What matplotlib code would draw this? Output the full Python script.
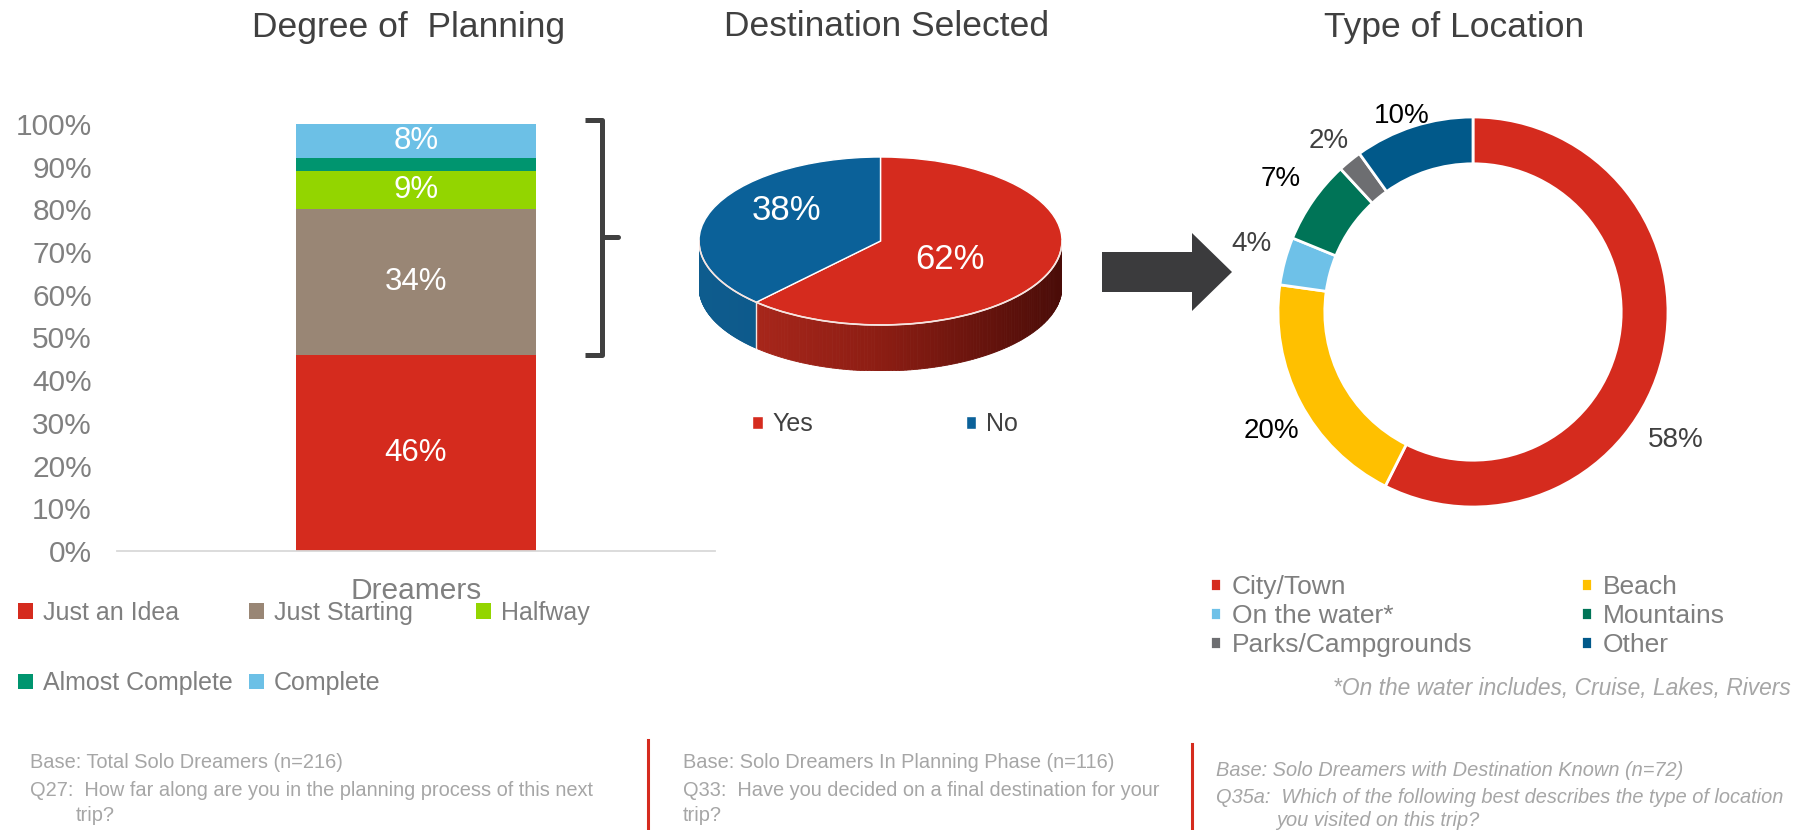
import numpy as np
import matplotlib
matplotlib.use('Agg')
import matplotlib.pyplot as plt
from matplotlib.patches import Polygon, FancyArrow
from matplotlib.colors import LinearSegmentedColormap

plt.rcParams['font.family'] = ['Liberation Sans', 'DejaVu Sans']

W, H = 1806, 830

# data
plan_category = ['Dreamers']
plan_stages = ['Just an Idea', 'Just Starting', 'Halfway', 'Almost Complete', 'Complete']
plan_values = [46, 34, 9, 3, 8]
plan_colors = ['#d52b1e', '#998675', '#93d500', '#00956f', '#6cc0e6']

dest_labels = ['Yes', 'No']
dest_values = [62, 38]
dest_colors = ['#d52b1e', '#0b6199']

loc_labels = ['City/Town', 'Beach', 'On the water*', 'Mountains', 'Parks/Campgrounds', 'Other']
loc_values = [58, 20, 4, 7, 2, 10]
loc_colors = ['#d52b1e', '#ffc000', '#6ec1e8', '#007457', '#6d6e71', '#01598a']
loc_label_colors = ['#404040', 'black', '#404040', 'black', '#404040', 'black']


def box(x0, y0, x1, y1):
    return [x0 / W, 1 - y1 / H, (x1 - x0) / W, (y1 - y0) / H]


def fx(px):
    return px / W


def fy(py):
    return 1 - py / H


fig = plt.figure(figsize=(W / 100, H / 100), dpi=100)

# overlay for decorations (bracket, arrow, separators), drawn on top
ov = fig.add_axes([0, 0, 1, 1])
ov.set_xlim(0, W)
ov.set_ylim(H, 0)
ov.axis('off')
ov.patch.set_visible(False)
ov.set_zorder(5)

# titles
for txt, x in [('Degree of  Planning', 409), ('Destination Selected', 887), ('Type of Location', 1454)]:
    fig.text(fx(x), fy(27), txt, ha='center', va='center', fontsize=25.5, color='#404040')

# ---- stacked bar ----
ax1 = fig.add_axes(box(117, 124, 715, 551))
bottom = 0.0
bars = []
for stage, val, col in zip(plan_stages, plan_values, plan_colors):
    c = ax1.bar(plan_category, [val / 100], bottom=bottom, width=0.4, color=col, label=stage)
    ax1.bar_label(c, labels=[f'{val}%' if val >= 5 else ''], label_type='center',
                  color='white', fontsize=22.5)
    bottom += val / 100
    bars.append(c)
ax1.set_xlim(-0.5, 0.5)
ax1.set_ylim(0, 1)
ticks = np.arange(0, 11) / 10
ax1.set_yticks(ticks)
ax1.set_yticklabels([f'{int(round(t * 100))}%' for t in ticks])
ax1.tick_params(axis='y', length=0, pad=18, labelsize=21.5, labelcolor='#808080')
ax1.tick_params(axis='x', length=0, pad=19, labelsize=21.5, labelcolor='#808080')
for s in ['left', 'top', 'right']:
    ax1.spines[s].set_visible(False)
ax1.spines['bottom'].set_color('#d9d9d9')
ax1.spines['bottom'].set_linewidth(1.3)

# bar legend, three columns
leg_cols = [([0, 3], 18), ([1, 4], 249), ([2], 476)]
for idx, x in leg_cols:
    fig.legend([bars[i] for i in idx], [plan_stages[i] for i in idx],
               loc='upper left', bbox_to_anchor=(fx(x), fy(601)), frameon=False,
               borderpad=0, borderaxespad=0, fontsize=18, labelcolor='#7f7f7f',
               handlelength=0.6, handleheight=0.6, handletextpad=0.4, labelspacing=1.85)

# bracket
ov.plot([585, 602, 602, 585], [120, 120, 355, 355], color='#404040', lw=3.6,
        solid_joinstyle='round', solid_capstyle='butt')
ov.plot([602, 618], [237, 237], color='#404040', lw=3.6, solid_capstyle='round')

# ---- 3D pie ----
ax2 = fig.add_axes(box(699, 157, 1062, 371))
depth = 46 / 84
wedges2, _, auto2 = ax2.pie(dest_values, colors=dest_colors, startangle=90, counterclock=False,
                            wedgeprops=dict(edgecolor='white', linewidth=1),
                            autopct=lambda p: f'{p:.0f}%',
                            textprops=dict(color='white', fontsize=25))
ax2.set_aspect('auto')
ax2.set_xlim(-1, 1)
ax2.set_ylim(-1 - depth, 1)
# nudge the percentage labels the way the original places them
for w, t, r, sh in zip(wedges2, auto2, [0.44, 0.63], [-7.6, -13]):
    th = np.radians((w.theta1 + w.theta2) / 2 + sh)
    t.set_position((r * np.cos(th), r * np.sin(th)))

side_cmaps = [LinearSegmentedColormap.from_list('rs', ['#b32a1e', '#8c1d13', '#4a0c08']),
              LinearSegmentedColormap.from_list('bs', ['#0e5c8e', '#0a4e7c'])]
for w, cmap in zip(wedges2, side_cmaps):
    for shift in (0, 360):
        lo = max(w.theta1, -180 + shift)
        hi = min(w.theta2, 0 + shift)
        if hi <= lo:
            continue
        a = np.radians(np.linspace(lo, hi, 120))
        for a0, a1 in zip(a[:-1], a[1:]):
            pts = [(np.cos(a0), np.sin(a0)), (np.cos(a1), np.sin(a1)),
                   (np.cos(a1), np.sin(a1) - depth), (np.cos(a0), np.sin(a0) - depth)]
            c = cmap((np.cos(a0) + 1) / 2)
            ax2.add_patch(Polygon(pts, closed=True, facecolor=c, edgecolor=c, lw=0.6, zorder=0))
rim = np.radians(np.linspace(-180, 0, 200))
ax2.plot(np.cos(rim), np.sin(rim), color='#f6e4e0', lw=1.2, zorder=2)
split = np.radians(wedges2[0].theta1)
ax2.plot([np.cos(split)] * 2, [np.sin(split), np.sin(split) - depth], color='#f6e4e0', lw=1, zorder=2)

fig.legend(wedges2, dest_labels, ncol=2, loc='center left', bbox_to_anchor=(fx(752), fy(424)),
           frameon=False, borderpad=0, borderaxespad=0, fontsize=18, labelcolor='#404040',
           handlelength=0.42, handleheight=0.42, handletextpad=0.4, columnspacing=6.1)

# arrow
ov.add_patch(FancyArrow(1102, 272, 130, 0, width=40, head_width=78, head_length=40,
                        length_includes_head=True, color='#3b3b3d', lw=0))

# ---- donut ----
ax3 = fig.add_axes(box(1278, 117, 1668, 507))
wedges3, _ = ax3.pie(loc_values, colors=loc_colors, startangle=90, counterclock=False,
                     wedgeprops=dict(width=0.24, edgecolor='white', linewidth=2))
ax3.set_xlim(-1, 1)
ax3.set_ylim(-1, 1)
label_r = [1.23, 1.2, 1.19, 1.2, 1.15, 1.07]
label_shift = [-19, 3, -2, 0, 1, 2]
for w, val, col, r, sh in zip(wedges3, loc_values, loc_label_colors, label_r, label_shift):
    th = np.radians((w.theta1 + w.theta2) / 2 + sh)
    ax3.text(r * np.cos(th), r * np.sin(th), f'{val}%', ha='center', va='center',
             fontsize=20, color=col)

for idx, x in [([0, 2, 4], 1210), ([1, 3, 5], 1581)]:
    fig.legend([wedges3[i] for i in idx], [loc_labels[i] for i in idx],
               loc='center left', bbox_to_anchor=(fx(x), fy(616)), frameon=False,
               borderpad=0, borderaxespad=0, fontsize=19, labelcolor='#7f7f7f',
               handlelength=0.42, handleheight=0.42, handletextpad=0.4, labelspacing=0.19)

fig.text(fx(1791), fy(688), '*On the water includes, Cruise, Lakes, Rivers', ha='right', va='center',
         fontsize=16.4, style='italic', color='#a6a6a6')

# ---- footnotes ----
note = dict(fontsize=14.4, color='#a6a6a6', va='center')
fig.text(fx(30), fy(763), 'Base: Total Solo Dreamers (n=216)', **note)
fig.text(fx(30), fy(790), 'Q27:  How far along are you in the planning process of this next', **note)
fig.text(fx(76), fy(815), 'trip?', **note)
fig.text(fx(683), fy(763), 'Base: Solo Dreamers In Planning Phase (n=116)', **note)
fig.text(fx(683), fy(790), 'Q33:  Have you decided on a final destination for your', **note)
fig.text(fx(683), fy(815), 'trip?', **note)
fig.text(fx(1216), fy(770), 'Base: Solo Dreamers with Destination Known (n=72)', style='italic', **note)
fig.text(fx(1216), fy(797), 'Q35a:  Which of the following best describes the type of location', style='italic', **note)
fig.text(fx(1276), fy(820), 'you visited on this trip?', style='italic', **note)

ov.plot([648, 648], [740, 830], color='#d52b1e', lw=2.2)
ov.plot([1192, 1192], [744, 830], color='#d52b1e', lw=2.2)

fig.savefig('out.png', dpi=100)
